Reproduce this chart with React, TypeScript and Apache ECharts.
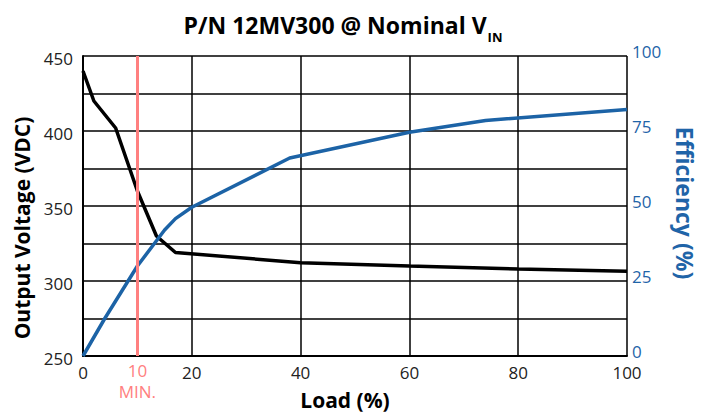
import React, { useEffect, useRef } from "react";
import * as echarts from "echarts";

const voltLoad = [0, 2, 6, 8, 10, 13.5, 17, 40, 60, 80, 100];
const voltage = [440, 420, 402, 381, 360, 330, 319, 312.2, 310, 308, 306.5];

const effLoad = [0, 4, 10, 15, 17, 20, 38, 60, 74, 100];
const efficiency = [0, 12.5, 30, 42, 45.8, 49.6, 66, 74.6, 78.5, 82.2];

const minLoad = 10;

const BLUE = "#1c63a6";
const BLUE_TEXT = "#1f64a8";
const PINK = "#ff8080";
const FONT = "'Open Sans', 'Noto Sans', sans-serif";

export default function App() {
  const ref = useRef<HTMLDivElement>(null);
  useEffect(() => {
    const chart = echarts.init(ref.current!, null, { renderer: "svg" });
    chart.setOption({
      animation: false,
      textStyle: { fontFamily: FONT },
      title: {
        text: "{a|P/N 12MV300 @ Nominal V}{b|IN}",
        left: 338,
        textAlign: "center",
        top: 8,
        textStyle: {
          rich: {
            a: { fontSize: 23, fontWeight: "bold", color: "#000", fontFamily: FONT, verticalAlign: "top", lineHeight: 32 },
            b: { fontSize: 13, fontWeight: "bold", color: "#000", fontFamily: FONT, verticalAlign: "top", padding: [17, 0, 0, 1], lineHeight: 32 },
          },
        },
      },
      grid: { left: 83, right: 79, top: 56, bottom: 58, containLabel: false, outerBoundsMode: "none" },
      xAxis: {
        type: "value",
        min: 0,
        max: 100,
        interval: 20,
        name: "Load (%)",
        nameLocation: "middle",
        nameGap: 33,
        nameTextStyle: { fontSize: 21, fontWeight: "bold", color: "#000", fontFamily: FONT, padding: [0, 20, 0, 0] },
        axisLine: { lineStyle: { color: "#000", width: 2 } },
        axisTick: { show: false },
        axisLabel: { fontSize: 17, color: "#222", margin: 8, fontFamily: FONT },
        splitLine: { show: true, lineStyle: { color: "#000", width: 1.5 } },
      },
      yAxis: [
        {
          type: "value",
          min: 250,
          max: 450,
          interval: 25,
          name: "Output Voltage (VDC)",
          nameLocation: "middle",
          nameGap: 44,
          nameTextStyle: { fontSize: 21, fontWeight: "bold", color: "#000", fontFamily: FONT, padding: [0, 44, 0, 0] },
          axisLine: { show: true, lineStyle: { color: "#000", width: 2 } },
          axisTick: { show: false },
          axisLabel: {
            fontSize: 17,
            color: "#222",
            margin: 10,
            fontFamily: FONT,
            formatter: (v: number) => (v % 50 === 0 ? "{v|" + v + "}" : ""),
            rich: { v: { fontSize: 17, color: "#222", fontFamily: FONT, padding: [4, 0, 0, 0] } },
          },
          splitLine: { show: true, lineStyle: { color: "#000", width: 1.5 } },
        },
        {
          type: "value",
          min: 0,
          max: 100,
          interval: 12.5,
          position: "right",
          name: "Efficiency (%)",
          nameLocation: "middle",
          nameGap: 46,
          nameRotate: -90,
          nameTextStyle: { fontSize: 23, fontWeight: "bold", color: BLUE_TEXT, fontFamily: FONT, padding: [0, 6, 0, 0] },
          axisLine: { show: false },
          axisTick: { show: false },
          axisLabel: {
            fontSize: 17,
            color: BLUE_TEXT,
            margin: 5,
            fontFamily: FONT,
            formatter: (v: number) => (v % 25 === 0 ? "{v|" + v + "}" : ""),
            rich: { v: { fontSize: 17, color: BLUE_TEXT, fontFamily: FONT, padding: [0, 0, 9, 0] } },
          },
          splitLine: { show: false },
        },
      ],
      series: [
        {
          type: "line",
          name: "Output Voltage",
          yAxisIndex: 0,
          data: voltLoad.map((x, i) => [x, voltage[i]]),
          showSymbol: false,
          lineStyle: { color: "#000", width: 3.5 },
          itemStyle: { color: "#000" },
          z: 3,
          markLine: {
            silent: true,
            symbol: "none",
            lineStyle: { color: PINK, width: 3, type: "solid" },
            label: {
              show: true,
              position: "start",
              distance: 4,
              formatter: "10\nMIN.",
              color: PINK,
              fontSize: 17,
              lineHeight: 21,
              fontFamily: FONT,
            },
            data: [{ xAxis: minLoad }],
          },
        },
        {
          type: "line",
          name: "Efficiency",
          yAxisIndex: 1,
          data: effLoad.map((x, i) => [x, efficiency[i]]),
          showSymbol: false,
          lineStyle: { color: BLUE, width: 3.5 },
          itemStyle: { color: BLUE },
          z: 4,
        },
      ],
    });
    return () => chart.dispose();
  }, []);
  return <div ref={ref} style={{ position: "absolute", left: 0, top: 0, width: 706, height: 414 }} />;
}
